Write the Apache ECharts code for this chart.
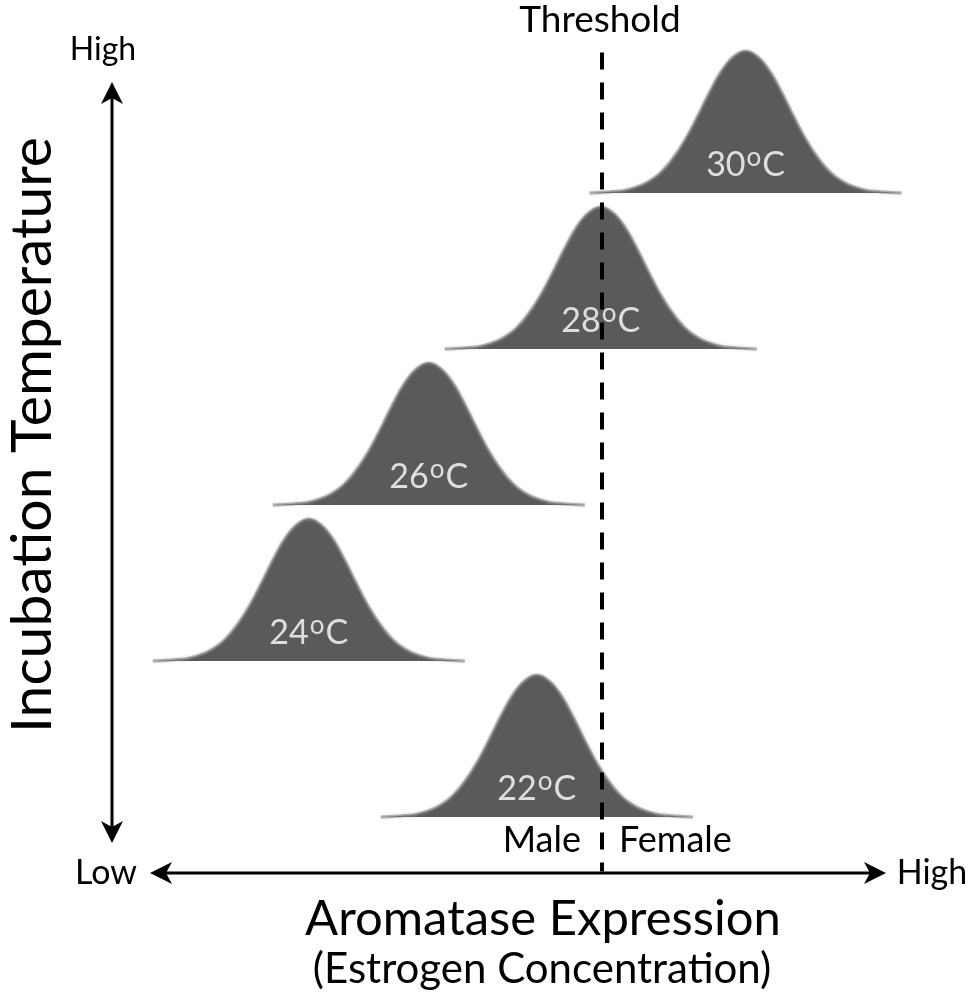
<!DOCTYPE html>
<html>
<head>
<meta charset="utf-8">
<script src="https://cdn.jsdelivr.net/npm/echarts@6/dist/echarts.min.js"></script>
<style>
  html, body { margin: 0; padding: 0; background: #fff; }
  #chart { width: 974px; height: 1001px; }
</style>
</head>
<body>
<div id="chart"></div>
<script>
// incubation temperatures (deg C) and where each distribution peaks on the expression axis
var temps = [22, 24, 26, 28, 30];
var peakExpression = [54.6, 26.1, 41.1, 62.6, 80.7];
var threshold = 62.7;

// bell shape: offset from the peak vs relative height
var profileOffset = [-19.5, -18, -16.5, -15, -13.5, -12, -10.5, -9, -7.5, -6, -4.5, -3, -1.5, 0,
                     1.5, 3, 4.5, 6, 7.5, 9, 10.5, 12, 13.5, 15, 16.5, 18, 19.5];
var profileHeight = [0, 0.004, 0.01, 0.02, 0.045, 0.085, 0.15, 0.25, 0.38, 0.54, 0.71, 0.86, 0.96, 1,
                     0.96, 0.86, 0.71, 0.54, 0.38, 0.25, 0.15, 0.085, 0.045, 0.02, 0.01, 0.004, 0];

var FONT = 'Lato';
var BELL_HEIGHT = 1.82;   // in degC units, drawing size of each bell

var chart = echarts.init(document.getElementById('chart'));

var series = [];
temps.forEach(function (t, i) {
	var pts = profileOffset.map(function (o, k) {
		return [peakExpression[i] + o, t + profileHeight[k] * BELL_HEIGHT];
	});
	series.push({
		name: t + '°C',
		type: 'line',
		data: pts,
		smooth: 0.4,
		symbol: 'none',
		silent: true,
		lineStyle: { color: 'rgba(128,128,128,0.6)', width: 3, shadowBlur: 3, shadowColor: 'rgba(128,128,128,0.5)' },
		areaStyle: { color: '#5a5a5a', opacity: 1, origin: t },
		z: 2
	});
});

// temperature labels
series.push({
	type: 'scatter',
	data: temps.map(function (t, i) { return [peakExpression[i], t]; }),
	symbolSize: 1,
	itemStyle: { color: 'rgba(0,0,0,0)' },
	silent: true,
	z: 5,
	label: {
		show: true,
		position: 'inside',
		offset: [0, -28],
		formatter: function (p) { return '{n|' + p.value[1] + '}{s|o}{n|C}'; },
		rich: {
			n: { fontFamily: FONT, fontSize: 34, color: '#fff', lineHeight: 38 },
			s: { fontFamily: FONT, fontSize: 26, color: '#fff', lineHeight: 24, padding: [0, 1, 14, 1] }
		}
	}
});

// threshold line
series.push({
	type: 'line',
	data: [],
	markLine: {
		silent: true,
		symbol: 'none',
		label: { show: false },
		lineStyle: { color: '#000', width: 4, type: [17, 13] },
		data: [[{ coord: [threshold, 31.8] }, { coord: [threshold, 21.3] }]]
	}
});

function arrowHead(x, y, rot) {
	return {
		type: 'polygon',
		x: x, y: y, rotation: rot,
		shape: { points: [[0, 0], [-11, 22], [0, 16], [11, 22]] },
		style: { fill: '#000' }
	};
}

chart.setOption({
	animation: false,
	grid: { left: 100, right: 74, top: 37, bottom: 28 },
	xAxis: { type: 'value', min: 0, max: 100, show: false },
	yAxis: { type: 'value', min: 20, max: 32, show: false },
	series: series,
	graphic: [
		// vertical arrow
		{ type: 'line', shape: { x1: 112, y1: 92, x2: 112, y2: 833 }, style: { stroke: '#000', lineWidth: 3 } },
		arrowHead(112, 82, 0),
		arrowHead(112, 843, Math.PI),
		// horizontal arrow
		{ type: 'line', shape: { x1: 160, y1: 873, x2: 876, y2: 873 }, style: { stroke: '#000', lineWidth: 3 } },
		arrowHead(150, 873, Math.PI / 2),
		arrowHead(886, 873, -Math.PI / 2),
		// texts
		{ type: 'text', x: 600, y: 20, style: { text: 'Threshold', font: '37px ' + FONT, fill: '#000', align: 'center', verticalAlign: 'middle' } },
		{ type: 'text', x: 103, y: 50, style: { text: 'High', font: '32px ' + FONT, fill: '#000', align: 'center', verticalAlign: 'middle' } },
		{ type: 'text', x: 106, y: 873, style: { text: 'Low', font: '34px ' + FONT, fill: '#000', align: 'center', verticalAlign: 'middle' } },
		{ type: 'text', x: 932, y: 873, style: { text: 'High', font: '34px ' + FONT, fill: '#000', align: 'center', verticalAlign: 'middle' } },
		{ type: 'text', x: 581, y: 840, style: { text: 'Male', font: '36px ' + FONT, fill: '#000', align: 'right', verticalAlign: 'middle' } },
		{ type: 'text', x: 619, y: 840, style: { text: 'Female', font: '36px ' + FONT, fill: '#000', align: 'left', verticalAlign: 'middle' } },
		{ type: 'text', x: 543, y: 919, style: { text: 'Aromatase Expression', font: '49px ' + FONT, fill: '#000', align: 'center', verticalAlign: 'middle' } },
		{ type: 'text', x: 542, y: 969, style: { text: '(Estrogen Concentration)', font: '42px ' + FONT, fill: '#000', align: 'center', verticalAlign: 'middle' } },
		{ type: 'text', x: 33, y: 435, rotation: Math.PI / 2, style: { text: 'Incubation Temperature', font: '57px ' + FONT, fill: '#000', align: 'center', verticalAlign: 'middle' } }
	]
});
</script>
</body>
</html>
